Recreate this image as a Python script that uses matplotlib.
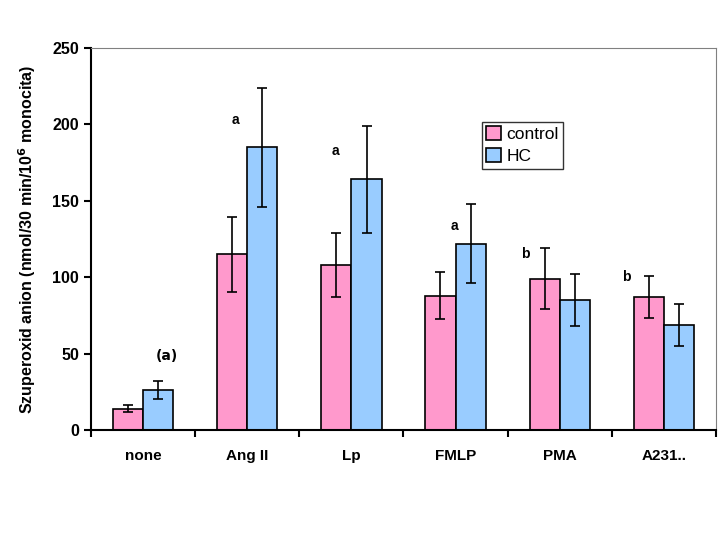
import numpy as np
import matplotlib
matplotlib.use("Agg")
from matplotlib import pyplot as plt

categories = ["none", "Ang II", "Lp", "FMLP", "PMA", "A231.."]
control = [14, 115, 108, 88, 99, 87]
control_err = [2.5, 24.5, 21, 15.5, 20, 13.5]
hc = [26, 185, 164, 122, 85, 69]
hc_err = [6, 39, 35, 26, 17, 13.7]

marks = ["(a)", "a", "a", "a", "b", "b"]
mark_x = [0.23, -0.115, -0.15, -0.01, -0.33, -0.365]
mark_y = [48.5, 203, 182.6, 133.7, 115, 100]

plt.rcParams["font.family"] = ["Liberation Sans", "DejaVu Sans"]
plt.rcParams["font.weight"] = "bold"

fig = plt.figure(figsize=(7.2, 5.4), dpi=100)
ax = fig.add_axes([0.1264, 0.2037, 0.868, 0.7074])

x = np.arange(len(categories))
w = 0.29
ekw = dict(elinewidth=1.2, capthick=1.2, ecolor="black")
ax.bar(x - w / 2, control, w, yerr=control_err, capsize=3.5, color="#ff99cc",
       edgecolor="black", linewidth=1.2, label="control", error_kw=ekw)
ax.bar(x + w / 2, hc, w, yerr=hc_err, capsize=3.5, color="#99ccff",
       edgecolor="black", linewidth=1.2, label="HC", error_kw=ekw)

for i, m in enumerate(marks):
    fam = ["DejaVu Sans"] if m.startswith("(") else None
    ax.text(x[i] + mark_x[i], mark_y[i], m, ha="center", va="center",
            fontsize=10, fontweight="bold", family=fam)

ax.set_xlim(-0.5, len(categories) - 0.5)
ax.set_ylim(0, 250)
ax.set_yticks([0, 50, 100, 150, 200, 250])
ax.set_xticks(np.arange(-0.5, len(categories)), minor=False)
ax.set_xticklabels([])
ax.set_xticks(x, minor=True)
ax.set_xticklabels(categories, minor=True)
ax.tick_params(axis="x", which="major", direction="out", length=5, width=1.5)
ax.tick_params(axis="x", which="minor", length=0, pad=14, labelsize=11)
ax.tick_params(axis="y", direction="out", length=5, width=1.5, labelsize=11.5)

ax.spines["left"].set_linewidth(1.5)
ax.spines["bottom"].set_linewidth(1.5)
ax.spines["top"].set_color("#808080")
ax.spines["right"].set_color("#808080")

ax.set_ylabel("Szuperoxid anion (nmol/30 min/10$^{\\mathbf{6}}$ monocita)",
              fontsize=11.5, fontweight="bold", labelpad=10)

leg = ax.legend(loc="upper left", bbox_to_anchor=(0.6256, 0.806), fontsize=12.5,
                frameon=True, fancybox=False, edgecolor="black",
                handlelength=0.85, handleheight=0.85, handletextpad=0.3,
                borderpad=0.25, labelspacing=0.35, borderaxespad=0)
leg.get_frame().set_linewidth(1.0)
for t in leg.get_texts():
    t.set_fontweight("normal")

fig.savefig("out.png", dpi=100)
